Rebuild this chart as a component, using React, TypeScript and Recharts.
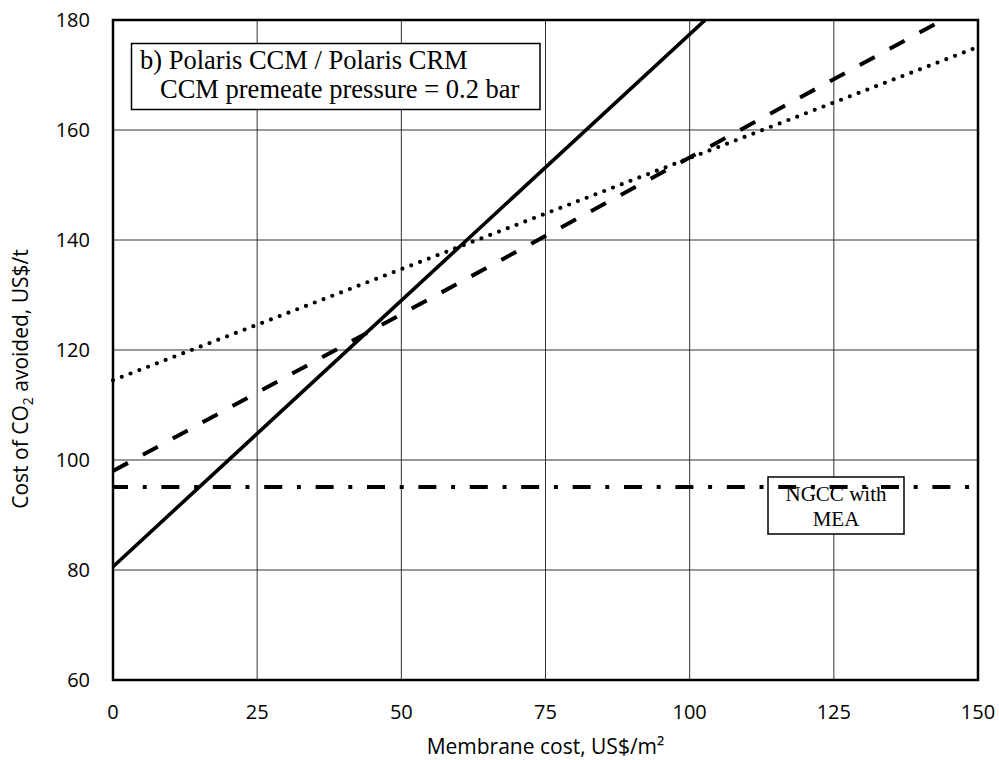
import {
  LineChart,
  Line,
  XAxis,
  YAxis,
  CartesianGrid,
  ReferenceArea,
  Customized,
} from "recharts";

// membrane cost, US$/m2 (line end points)
const membraneCost = [0, 150];
// cost of CO2 avoided, US$/t
const solidCase = [80.6, 225.8];
const dashedCase = [98, 183.5];
const dottedCase = [114.5, 175.1];
const ngccMea = [95.1, 95.1];

const xTicks = [0, 25, 50, 75, 100, 125, 150];
const yTicks = [60, 80, 100, 120, 140, 160, 180];

const rows = membraneCost.map((cost, i) => ({
  cost,
  solid: solidCase[i],
  dashed: dashedCase[i],
  dotted: dottedCase[i],
  mea: ngccMea[i],
}));

const SANS = "'Open Sans', sans-serif";
const SERIF = "'Liberation Serif', 'Times New Roman', serif";

const YTitle = () => (
  <text
    transform="translate(28, 379) rotate(-90)"
    textAnchor="middle"
    fontFamily={SANS}
    fontSize={21}
    fill="#000"
  >
    <tspan>Cost of CO</tspan>
    <tspan fontSize={14} dy={5}>
      2
    </tspan>
    <tspan dy={-5}> avoided, US$/t</tspan>
  </text>
);

const Annotations = () => (
  <g fontFamily={SERIF} fill="#000">
    <rect x={131.5} y={43.5} width={408.5} height={66} fill="#fff" stroke="#000" strokeWidth={1.5} />
    <text x={140} y={69} fontSize={26.5}>b) Polaris CCM / Polaris CRM</text>
    <text x={160} y={98} fontSize={26.5}>CCM premeate pressure = 0.2 bar</text>
    <rect x={768} y={477} width={136} height={57} fill="#fff" stroke="#000" strokeWidth={1.5} />
    <text x={836} y={501} fontSize={21} textAnchor="middle">NGCC with</text>
    <text x={836} y={526} fontSize={21} textAnchor="middle">MEA</text>
  </g>
);

export default function App() {
  return (
    <div style={{ position: "absolute", left: 0, top: 0 }}>
      <LineChart
        width={999}
        height={760}
        data={rows}
        margin={{ top: 20, right: 21, left: 0, bottom: 0 }}
        style={{ fontFamily: SANS }}
      >
        <CartesianGrid stroke="#333" strokeWidth={1} />
        <XAxis
          dataKey="cost"
          type="number"
          domain={[0, 150]}
          ticks={xTicks}
          height={80}
          axisLine={false}
          tickLine={false}
          tickSize={0}
          tickMargin={25}
          tick={{ fill: "#000", fontSize: 20, fontFamily: SANS }}
          label={{
            value: "Membrane cost, US$/m²",
            position: "insideBottom",
            offset: 6,
            fill: "#000",
            fontSize: 21,
            fontFamily: SANS,
          }}
        />
        <YAxis
          type="number"
          domain={[60, 180]}
          ticks={yTicks}
          allowDataOverflow
          width={113}
          axisLine={false}
          tickLine={false}
          tickSize={0}
          tickMargin={23}
          tick={{ fill: "#000", fontSize: 20, fontFamily: SANS }}
          label={<YTitle />}
        />
        <Line
          dataKey="mea"
          stroke="#000"
          strokeWidth={4}
          strokeDasharray="18 14.7 4 14.7"
          strokeDashoffset={3}
          dot={false}
          isAnimationActive={false}
        />
        <Line
          dataKey="dotted"
          stroke="#000"
          strokeWidth={4.2}
          strokeLinecap="round"
          strokeDasharray="0 9.4"
          dot={false}
          isAnimationActive={false}
        />
        <Line
          dataKey="dashed"
          stroke="#000"
          strokeWidth={4}
          strokeDasharray="17 17"
          dot={false}
          isAnimationActive={false}
        />
        <Line
          dataKey="solid"
          stroke="#000"
          strokeWidth={3.6}
          dot={false}
          isAnimationActive={false}
        />
        <ReferenceArea
          x1={0}
          x2={150}
          y1={60}
          y2={180}
          fill="none"
          fillOpacity={0}
          stroke="#000"
          strokeWidth={2.5}
        />
        <Customized component={Annotations} />
      </LineChart>
    </div>
  );
}
